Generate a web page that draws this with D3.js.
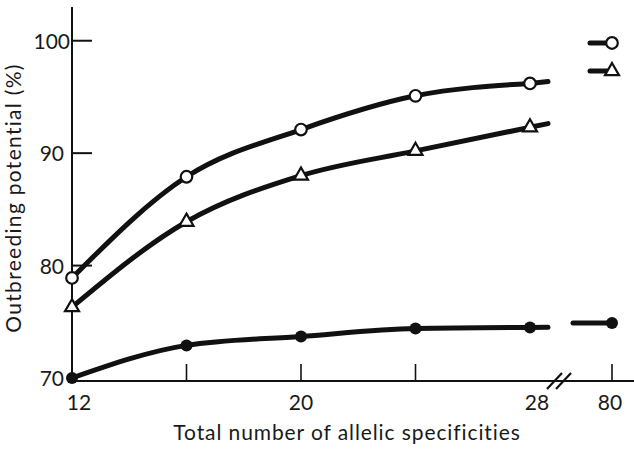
<!DOCTYPE html>
<html>
<head>
<meta charset="utf-8">
<script src="https://cdn.jsdelivr.net/npm/d3@7"></script>
<style>
  body { margin: 0; background: #fff; }
  text { font-family: Lato, "Open Sans", sans-serif; fill: #1a1a1a; }
</style>
</head>
<body>
<svg width="634" height="449"></svg>
<script>
// data
const specificities = [12, 16, 20, 24, 28];
const openCircle = [78.9, 87.9, 92.1, 95.1, 96.2];
const triangle = [76.3, 83.9, 88.0, 90.2, 92.3];
const filledCircle = [70.0, 72.9, 73.7, 74.4, 74.5];
// values at 80 specificities (after the axis break)
const farX = 80;
const farValues = [99.8, 97.3, 74.9];

const xTickLabels = [12, 20, 28];
const xTicks = [16, 20, 24];
const yTickLabels = [70, 80, 90, 100];
const yTicks = [80, 90, 100];

const svg = d3.select('svg');
const ink = '#111';

const x = d3.scaleLinear().domain([12, 28]).range([72, 530]);
const xFar = 612; // position of 80 after the break
const y = d3.scaleLinear().domain([70, 103]).range([378, 7]);
const axisY = 381;

// axes
svg.append('line')
    .attr('x1', x(12)).attr('x2', x(12))
    .attr('y1', y(103)).attr('y2', axisY)
    .attr('stroke', ink).attr('stroke-width', 2);

svg.append('line')
    .attr('x1', x(12)).attr('x2', 634)
    .attr('y1', axisY).attr('y2', axisY)
    .attr('stroke', ink).attr('stroke-width', 2);

// y ticks point inward
svg.selectAll('.ytick')
    .data(yTicks)
    .enter()
    .append('line')
    .attr('x1', x(12)).attr('x2', x(12) + 20)
    .attr('y1', d => y(d)).attr('y2', d => y(d))
    .attr('stroke', ink).attr('stroke-width', 2);

svg.selectAll('.ylab')
    .data(yTickLabels)
    .enter()
    .append('text')
    .attr('x', d => d === 100 ? 70 : 64)
    .attr('y', d => y(d) + 8)
    .attr('text-anchor', 'end')
    .attr('font-size', 21)
    .text(d => d);

// x ticks point upward
svg.selectAll('.xtick')
    .data(xTicks.map(x).concat([xFar]))
    .enter()
    .append('line')
    .attr('x1', d => d).attr('x2', d => d)
    .attr('y1', axisY).attr('y2', axisY - 17)
    .attr('stroke', ink).attr('stroke-width', 1.6);

svg.selectAll('.xlab')
    .data(xTickLabels)
    .enter()
    .append('text')
    .attr('x', d => x(d) + (d === 12 ? 7 : d === 28 ? 7 : 0))
    .attr('y', 410)
    .attr('text-anchor', 'middle')
    .attr('font-size', 21)
    .text(d => d);

svg.append('text')
    .attr('x', xFar - 2)
    .attr('y', 410)
    .attr('text-anchor', 'middle')
    .attr('font-size', 21)
    .text(farX);

// axis break marks
[0, 9].forEach(off => {
    svg.append('line')
        .attr('x1', 547 + off).attr('y1', axisY + 8)
        .attr('x2', 562 + off).attr('y2', axisY - 8)
        .attr('stroke', ink).attr('stroke-width', 2.2);
});

// axis titles
svg.append('text')
    .attr('x', 347)
    .attr('y', 440)
    .attr('text-anchor', 'middle')
    .attr('font-size', 21)
    .attr('letter-spacing', 0.9)
    .text('Total number of allelic specificities');

svg.append('text')
    .attr('transform', `translate(21, 198) rotate(-90)`)
    .attr('text-anchor', 'middle')
    .attr('font-size', 21)
    .attr('letter-spacing', 1.3)
    .text('Outbreeding potential (%)');

// series
const series = [
    { vals: openCircle, far: farValues[0], marker: 'open', lead: 22 },
    { vals: triangle, far: farValues[1], marker: 'tri', lead: 22 },
    { vals: filledCircle, far: farValues[2], marker: 'filled', lead: 39 }
];

const line = d3.line()
    .x(d => x(d[0]))
    .y(d => y(d[1]))
    .curve(d3.curveMonotoneX);

series.forEach(s => {
    const pts = specificities.map((k, i) => [k, s.vals[i]]);
    svg.append('path')
        .attr('d', line(pts))
        .attr('fill', 'none')
        .attr('stroke', ink)
        .attr('stroke-width', 5)
        .attr('stroke-linecap', 'round');

    // short tail past 28, continuing the last segment
    const n = pts.length;
    const x0 = x(pts[n - 1][0]), y0 = y(pts[n - 1][1]);
    const slope = (y0 - y(pts[n - 2][1])) / (x0 - x(pts[n - 2][0]));
    svg.append('line')
        .attr('x1', x0).attr('y1', y0)
        .attr('x2', x0 + 18).attr('y2', y0 + slope * 18)
        .attr('stroke', ink).attr('stroke-width', 5)
        .attr('stroke-linecap', 'round');

    // segment leading into the value at 80
    svg.append('line')
        .attr('x1', xFar - s.lead).attr('x2', xFar)
        .attr('y1', y(s.far)).attr('y2', y(s.far))
        .attr('stroke', ink).attr('stroke-width', 5)
        .attr('stroke-linecap', 'round');

    const all = pts.map(p => [x(p[0]), y(p[1])]).concat([[xFar, y(s.far)]]);

    if (s.marker === 'tri') {
        svg.selectAll(null)
            .data(all)
            .enter()
            .append('path')
            .attr('d', d3.symbol().type(d3.symbolTriangle).size(85))
            .attr('transform', d => `translate(${d[0]}, ${d[1]})`)
            .attr('fill', '#fff')
            .attr('stroke', ink)
            .attr('stroke-width', 2.2);
    } else {
        svg.selectAll(null)
            .data(all)
            .enter()
            .append('circle')
            .attr('cx', d => d[0])
            .attr('cy', d => d[1])
            .attr('r', s.marker === 'open' ? 5.8 : 6)
            .attr('fill', s.marker === 'open' ? '#fff' : ink)
            .attr('stroke', ink)
            .attr('stroke-width', s.marker === 'open' ? 2.2 : 0);
    }
});
</script>
</body>
</html>
